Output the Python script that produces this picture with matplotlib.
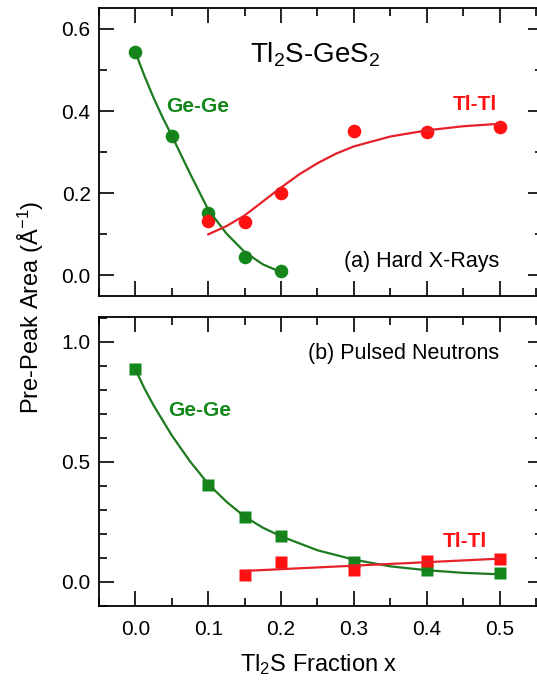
import matplotlib
matplotlib.use("Agg")
import matplotlib.pyplot as plt
from matplotlib.ticker import MultipleLocator

plt.rcParams['font.family'] = ['Liberation Sans', 'DejaVu Sans']
plt.rcParams['mathtext.fontset'] = 'custom'
plt.rcParams['mathtext.rm'] = 'Liberation Sans'
plt.rcParams['mathtext.it'] = 'Liberation Sans:italic'
plt.rcParams['mathtext.bf'] = 'Liberation Sans:bold'

# (a) hard x-rays, pre-peak areas
xa_gege = [0.0, 0.05, 0.1, 0.15, 0.2]
ya_gege = [0.543, 0.34, 0.152, 0.045, 0.01]
xa_tltl = [0.1, 0.15, 0.2, 0.3, 0.4, 0.5]
ya_tltl = [0.132, 0.131, 0.201, 0.352, 0.348, 0.361]

# fit curves
fa_gege_x = [0.0, 0.0125, 0.025, 0.0375, 0.05, 0.075, 0.1, 0.125, 0.15, 0.175, 0.2]
fa_gege_y = [0.543, 0.485, 0.432, 0.384, 0.34, 0.248, 0.16, 0.102, 0.057, 0.027, 0.008]
fa_tltl_x = [0.1, 0.125, 0.15, 0.175, 0.2, 0.225, 0.25, 0.275, 0.3, 0.35, 0.4, 0.45, 0.5]
fa_tltl_y = [0.1, 0.12, 0.146, 0.18, 0.214, 0.246, 0.273, 0.296, 0.314, 0.338, 0.353, 0.363, 0.369]

# (b) pulsed neutrons
xb_gege = [0.0, 0.1, 0.15, 0.2, 0.3, 0.4, 0.5]
yb_gege = [0.885, 0.403, 0.27, 0.193, 0.082, 0.05, 0.037]
xb_tltl = [0.15, 0.2, 0.3, 0.4, 0.5]
yb_tltl = [0.03, 0.083, 0.049, 0.088, 0.097]

fb_gege_x = [0.0, 0.0125, 0.025, 0.05, 0.075, 0.1, 0.125, 0.15, 0.175, 0.2, 0.25, 0.3, 0.35, 0.4, 0.45, 0.5]
fb_gege_y = [0.885, 0.805, 0.735, 0.61, 0.502, 0.408, 0.334, 0.272, 0.226, 0.19, 0.132, 0.093, 0.065, 0.049, 0.038, 0.032]
fb_tltl_x = [0.15, 0.5]
fb_tltl_y = [0.046, 0.097]

green_mk = '#14871a'
green_ln = '#1c7a1f'
red_mk = '#ff1111'
red_ln = '#e8202a'

W, H = 537, 686
fig = plt.figure(figsize=(W / 100, H / 100), dpi=100)
left = 99 / W
width = 543 / W - left
ax1 = fig.add_axes([left, 1 - 296 / H, width, (296 - 8.3) / H])
ax2 = fig.add_axes([left, 1 - 606 / H, width, (606 - 317) / H])

for ax in (ax1, ax2):
    ax.set_xlim(-0.05, 0.5597)
    ax.xaxis.set_major_locator(MultipleLocator(0.1))
    ax.xaxis.set_minor_locator(MultipleLocator(0.05))
    ax.tick_params(which='both', direction='in', top=True, right=True,
                   labelsize=15, width=1.2)
    ax.tick_params(which='major', length=10.5)
    ax.tick_params(which='minor', length=5.5)
    ax.tick_params(axis='y', pad=6)
    ax.tick_params(axis='x', pad=10)
    for s in ax.spines.values():
        s.set_linewidth(1.3)

# panel (a)
ax1.plot(xa_gege, ya_gege, 'o', color=green_mk, ms=9.8, mec='none', zorder=2)
ax1.plot(xa_tltl, ya_tltl, 'o', color=red_mk, ms=9.8, mec='none', zorder=3)
ax1.plot(fa_gege_x, fa_gege_y, '-', color=green_ln, lw=1.6, zorder=4)
ax1.plot(fa_tltl_x, fa_tltl_y, '-', color=red_ln, lw=1.6, zorder=4)
ax1.set_ylim(-0.05, 0.65)
ax1.yaxis.set_major_locator(MultipleLocator(0.2))
ax1.yaxis.set_minor_locator(MultipleLocator(0.1))
ax1.tick_params(labelbottom=False)
ax1.text(0.247, 0.537, r'Tl$_2$S-GeS$_2$', fontsize=20, ha='center', va='center')
ax1.text(0.085, 0.41, 'Ge-Ge', fontsize=15, fontweight='bold', color=green_mk,
         ha='center', va='center')
ax1.text(0.466, 0.415, 'Tl-Tl', fontsize=15, fontweight='bold', color=red_mk,
         ha='center', va='center')
ax1.text(0.5, 0.034, '(a) Hard X-Rays', fontsize=15.5, ha='right', va='center')

# panel (b)
ax2.plot(xb_gege, yb_gege, 's', color=green_mk, ms=9.2, mec='none', zorder=2)
ax2.plot(xb_tltl, yb_tltl, 's', color=red_mk, ms=9.2, mec='none', zorder=3)
ax2.plot(fb_gege_x, fb_gege_y, '-', color=green_ln, lw=1.6, zorder=4)
ax2.plot(fb_tltl_x, fb_tltl_y, '-', color=red_ln, lw=1.6, zorder=4)
ax2.set_ylim(-0.1, 1.103)
ax2.yaxis.set_major_locator(MultipleLocator(0.5))
ax2.yaxis.set_minor_locator(MultipleLocator(0.1))
ax2.text(0.5, 0.953, '(b) Pulsed Neutrons', fontsize=15.5, ha='right', va='center')
ax2.text(0.0875, 0.715, 'Ge-Ge', fontsize=15, fontweight='bold', color=green_mk,
         ha='center', va='center')
ax2.text(0.452, 0.167, 'Tl-Tl', fontsize=15, fontweight='bold', color=red_mk,
         ha='center', va='center')

fig.text(319 / W, 1 - 665 / H, r'Tl$_2$S Fraction x', fontsize=17,
         ha='center', va='center')
fig.text(31 / W, 1 - 307 / H, r'Pre-Peak Area ($\mathrm{\AA}^{-1}$)', fontsize=17,
         rotation=90, ha='center', va='center')

fig.savefig('out.png', dpi=100)
